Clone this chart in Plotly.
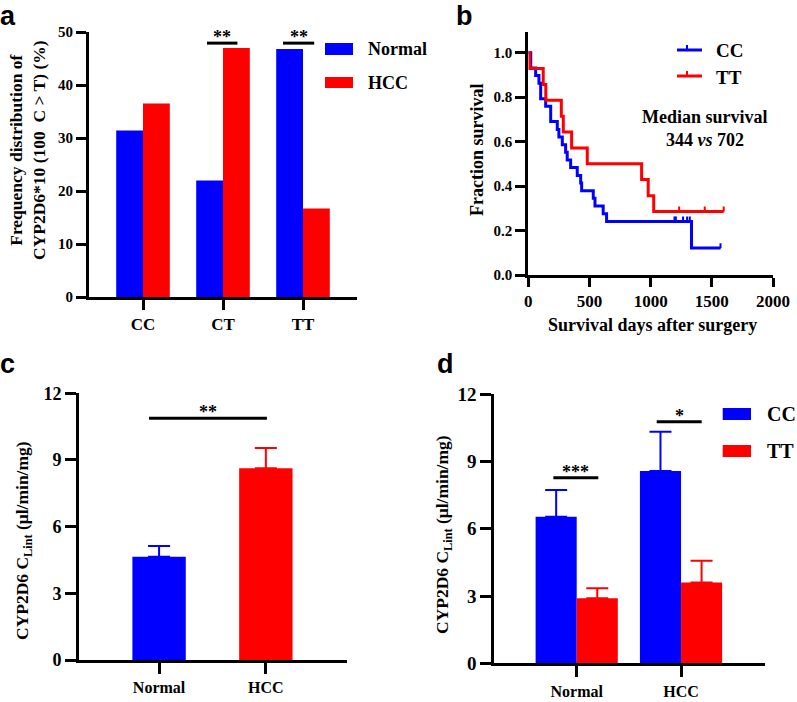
import plotly.graph_objects as go

# ---------------- data ----------------
# Panel a: genotype frequency (%)
geno = ["CC", "CT", "TT"]
freq_normal = [31.4, 22.0, 46.8]
freq_hcc = [36.5, 47.0, 16.7]

# Panel b: Kaplan-Meier curves (days, survival fraction)
cc_t = [0, 20, 60, 87, 101, 142, 183, 237, 250, 278, 305, 318, 346, 400, 428, 436, 531, 545, 612, 640, 1334, 1571]
cc_s = [1.0, 0.931, 0.897, 0.862, 0.793, 0.759, 0.690, 0.655, 0.621, 0.586, 0.552, 0.517, 0.483, 0.448, 0.414, 0.379,
        0.345, 0.310, 0.276, 0.241, 0.121, 0.121]
cc_cens_t = [1195, 1206, 1265, 1298, 1320, 1571]
cc_cens_s = [0.241, 0.241, 0.241, 0.241, 0.241, 0.121]
tt_t = [0, 12, 122, 143, 270, 286, 354, 482, 926, 980, 1025, 1597]
tt_s = [1.0, 0.929, 0.857, 0.786, 0.714, 0.643, 0.571, 0.500, 0.429, 0.357, 0.286, 0.286]
tt_cens_t = [1233, 1442, 1597]
tt_cens_s = [0.286, 0.286, 0.286]

# Panel c: CLint by tissue
tissue = ["Normal", "HCC"]
clint_mean = [4.65, 8.63]
clint_err = [0.48, 0.91]

# Panel d: CLint by tissue and genotype
d_cc_mean = [6.54, 8.58]
d_cc_err = [1.19, 1.75]
d_tt_mean = [2.90, 3.60]
d_tt_err = [0.45, 0.98]

BLUE = "#0000FF"
RED = "#FF0000"
SERIF = "Liberation Serif, Times New Roman, serif"
SANS = "Liberation Sans, Arial, sans-serif"
W, H = 797, 702


def X(px):
    return px / W


def Y(py):
    return 1 - py / H


def bold(size, family=SERIF):
    return dict(family=family, size=size, color="black", weight="bold")


fig = go.Figure()

# ---------------- panel a ----------------
fig.add_trace(go.Bar(x=geno, y=freq_normal, marker_color=BLUE, marker_line_width=0,
                     width=0.335, offset=-0.335, xaxis="x", yaxis="y", showlegend=False))
fig.add_trace(go.Bar(x=geno, y=freq_hcc, marker_color=RED, marker_line_width=0,
                     width=0.335, offset=0, xaxis="x", yaxis="y", showlegend=False))

# ---------------- panel b ----------------
fig.add_trace(go.Scatter(x=cc_t, y=cc_s, mode="lines", line=dict(color=BLUE, width=3, shape="hv"),
                         xaxis="x2", yaxis="y2", showlegend=False))
fig.add_trace(go.Scatter(x=tt_t, y=tt_s, mode="lines", line=dict(color=RED, width=3, shape="hv"),
                         xaxis="x2", yaxis="y2", showlegend=False))
for ct, cs, col in [(cc_cens_t, cc_cens_s, BLUE), (tt_cens_t, tt_cens_s, RED)]:
    fig.add_trace(go.Scatter(x=ct, y=cs, mode="markers", marker=dict(size=1, color=col),
                             error_y=dict(type="constant", value=0.022, valueminus=0, symmetric=False,
                                          color=col, thickness=2, width=0),
                             xaxis="x2", yaxis="y2", showlegend=False))

# ---------------- panel c ----------------
for i, col in enumerate([BLUE, RED]):
    fig.add_trace(go.Bar(x=[tissue[i]], y=[clint_mean[i]], marker_color=col, marker_line_width=0,
                         width=0.5, offset=-0.25,
                         error_y=dict(type="data", array=[clint_err[i]], arrayminus=[0], symmetric=False,
                                      color=col, thickness=2, width=11),
                         xaxis="x3", yaxis="y3", showlegend=False))

# ---------------- panel d ----------------
fig.add_trace(go.Bar(x=tissue, y=d_cc_mean, marker_color=BLUE, marker_line_width=0,
                     width=0.394, offset=-0.394,
                     error_y=dict(type="data", array=d_cc_err, arrayminus=[0, 0], symmetric=False,
                                  color=BLUE, thickness=2, width=11),
                     xaxis="x4", yaxis="y4", showlegend=False))
fig.add_trace(go.Bar(x=tissue, y=d_tt_mean, marker_color=RED, marker_line_width=0,
                     width=0.394, offset=0,
                     error_y=dict(type="data", array=d_tt_err, arrayminus=[0, 0], symmetric=False,
                                  color=RED, thickness=2, width=11),
                     xaxis="x4", yaxis="y4", showlegend=False))

# ---------------- axes ----------------
ax_common = dict(showline=True, linewidth=3, linecolor="black", ticks="outside", tickwidth=3,
                 tickcolor="black", showgrid=False, zeroline=False, fixedrange=True, automargin=False)

fig.update_layout(
    xaxis=dict(**ax_common, domain=[X(89), X(357)], anchor="y", range=[-0.675, 2.675], ticklen=10,
               tickfont=bold(17)),
    yaxis=dict(**ax_common, domain=[Y(297), Y(32)], anchor="x", range=[0, 50], dtick=10, ticklen=10,
               tickfont=bold(15)),
    xaxis2=dict(**ax_common, domain=[X(528.3), X(773)], anchor="y2", range=[0, 2000], dtick=500, ticklen=9,
                tickfont=bold(17)),
    yaxis2=dict(**ax_common, domain=[Y(275), Y(32)], anchor="x2", range=[0, 1.093],
                tickvals=[0, 0.2, 0.4, 0.6, 0.8, 1.0],
                ticktext=["0.0", "0.2", "0.4", "0.6", "0.8", "1.0"], ticklen=10,
                tickfont=bold(15)),
    xaxis3=dict(**ax_common, domain=[X(79), X(347)], anchor="y3", range=[-0.75, 1.76], ticklen=11,
                tickfont=bold(16)),
    yaxis3=dict(**ax_common, domain=[Y(660), Y(393.3)], anchor="x3", range=[0, 12], dtick=3, ticklen=11,
                tickfont=bold(18)),
    xaxis4=dict(**ax_common, domain=[X(494.3), X(765)], anchor="y4", range=[-0.79, 1.805], ticklen=11,
                tickfont=bold(16)),
    yaxis4=dict(**ax_common, domain=[Y(663.3), Y(394.3)], anchor="x4", range=[0, 12], dtick=3, ticklen=11,
                tickfont=bold(19)),
)

# ---------------- significance bars ----------------
sig = [
    ("x", "y", 0.80, 1.18, 47.9, "**"),
    ("x", "y", 1.75, 2.14, 47.9, "**"),
    ("x3", "y3", -0.094, 1.01, 10.88, "**"),
    ("x4", "y4", -0.224, 0.207, 8.28, "***"),
    ("x4", "y4", 0.767, 1.198, 10.78, "*"),
]
shapes = []
annotations = []
for xr, yr, x0, x1, yv, txt in sig:
    shapes.append(dict(type="line", xref=xr, yref=yr, x0=x0, x1=x1, y0=yv, y1=yv,
                       line=dict(color="black", width=3)))
    annotations.append(dict(xref=xr, yref=yr, x=(x0 + x1) / 2, y=yv, text=txt, showarrow=False,
                            yanchor="bottom", yshift=-6, font=bold(18)))

# ---------------- legends (manual) ----------------
# panel a
for (y0, y1, col, lab) in [(43, 55, BLUE, "Normal"), (77, 88, RED, "HCC")]:
    shapes.append(dict(type="rect", xref="paper", yref="paper", x0=X(325), x1=X(353), y0=Y(y1), y1=Y(y0),
                       fillcolor=col, line=dict(width=0)))
    annotations.append(dict(xref="paper", yref="paper", x=X(366), y=Y((y0 + y1) / 2), text=lab, showarrow=False,
                            xanchor="left", yanchor="middle", font=bold(18)))
# panel d
for (y0, y1, col, lab) in [(408, 420, BLUE, "CC"), (445, 457, RED, "TT")]:
    shapes.append(dict(type="rect", xref="paper", yref="paper", x0=X(722.7), x1=X(751), y0=Y(y1), y1=Y(y0),
                       fillcolor=col, line=dict(width=0)))
    annotations.append(dict(xref="paper", yref="paper", x=X(765), y=Y((y0 + y1) / 2), text=lab, showarrow=False,
                            xanchor="left", yanchor="middle", font=bold(20)))
# panel b
for (yy, col, lab) in [(50, BLUE, "CC"), (76, RED, "TT")]:
    shapes.append(dict(type="line", xref="paper", yref="paper", x0=X(677), x1=X(702), y0=Y(yy), y1=Y(yy),
                       line=dict(color=col, width=3)))
    shapes.append(dict(type="line", xref="paper", yref="paper", x0=X(687), x1=X(687), y0=Y(yy), y1=Y(yy - 5),
                       line=dict(color=col, width=2)))
    annotations.append(dict(xref="paper", yref="paper", x=X(714), y=Y(yy + 1), text=lab, showarrow=False,
                            xanchor="left", yanchor="middle", font=bold(19)))


# ---------------- titles & texts ----------------
def ann(x, y, text, size, angle=0, family=SERIF, xanchor="center"):
    annotations.append(dict(xref="paper", yref="paper", x=X(x), y=Y(y), text=text, showarrow=False,
                            textangle=angle, xanchor=xanchor, yanchor="middle", font=bold(size, family)))


ann(27, 150, "Frequency distribution of<br>CYP2D6*10 (100\u00a0 C &gt; T) (%)", 17.5, angle=-90)
ann(477, 150, "Fraction survival", 18, angle=-90)
ann(652, 325, "Survival days after surgery", 18)
ann(705, 117, "Median survival", 18)
ann(705, 140, "344 <i>vs</i> 702", 18)
ann(23, 541, "CYP2D6 C<sub>Lint</sub> (\u03bcl/min/mg)", 17.5, angle=-90)
ann(443, 535, "CYP2D6 C<sub>Lint</sub> (\u03bcl/min/mg)", 17.5, angle=-90)

# panel letters
ann(8, 16, "a", 27, family=SANS)
ann(464, 16, "b", 27, family=SANS)
ann(8, 364, "c", 27, family=SANS)
ann(445, 364, "d", 27, family=SANS)

fig.update_layout(
    width=W, height=H, margin=dict(l=0, r=0, t=0, b=0, pad=0, autoexpand=False),
    paper_bgcolor="white", plot_bgcolor="white",
    barmode="overlay", shapes=shapes, annotations=annotations, showlegend=False,
)

fig.write_html("out.html", config={"displayModeBar": False, "staticPlot": True},
               post_script="document.body.style.margin='0';document.body.style.padding='0';"
                           "document.body.style.overflow='hidden';")
